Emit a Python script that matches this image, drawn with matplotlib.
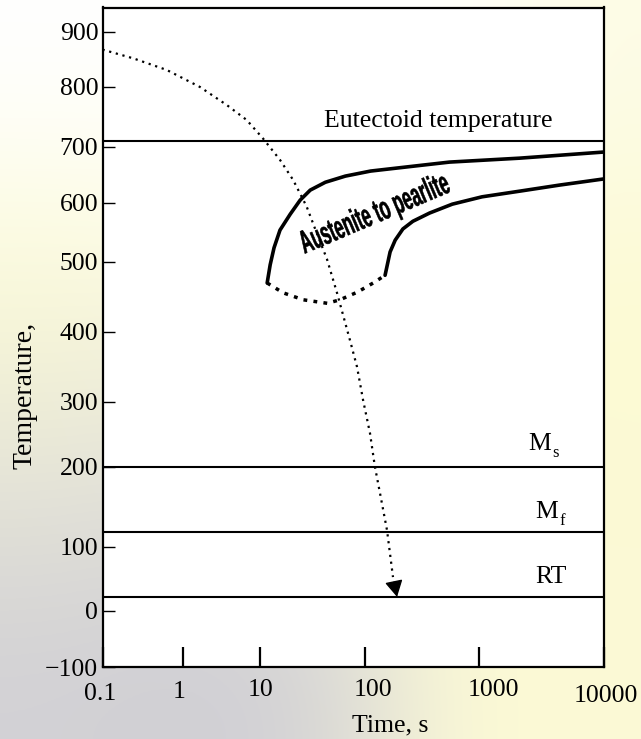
import numpy as np
import matplotlib
matplotlib.use("Agg")
import matplotlib.pyplot as plt
import matplotlib.transforms as mtransforms
from matplotlib.colors import to_rgb
from matplotlib.textpath import TextPath
from matplotlib.patches import PathPatch
from matplotlib.font_manager import FontProperties

plt.rcParams['font.family'] = ['Liberation Serif', 'DejaVu Serif']
plt.rcParams['mathtext.fontset'] = 'stix'

# --- data (time in s, temperature in deg C) ---
cool_t = [0.1, 0.243, 0.634, 1.68, 3.72, 6.73, 10.7, 15.5, 20.7, 27.8, 34.7,
          43.4, 54.1, 72, 84, 95.8, 110.6, 122, 135.5, 156, 176]
cool_c = [868, 852, 831, 800, 770, 745, 714, 677, 641, 594, 549,
          505, 456, 388, 350, 303, 252, 201, 167, 121, 53]
arrow_tip = (191, 22)
arrow_base = (179.6, 45)

start_t = [11.7, 12.5, 13.6, 15.5, 19.4, 24.1, 30.1, 41.9, 65, 112, 203, 302, 550, 2100, 10000]
start_c = [470, 496, 524, 554, 581, 605, 623, 637, 648, 657, 663, 667, 673, 680, 691]

finish_t = [150, 157, 166, 184, 215, 263, 369, 583, 1057, 2100, 4420, 10000]
finish_c = [481, 496, 517, 537, 556, 569, 583, 598, 611, 621, 632, 643]

nose_t = [11.7, 16.6, 25.8, 43.7, 57.7, 84.8, 118, 150]
nose_c = [470, 456, 446, 441, 446, 457, 470, 481]

eutectoid = 710.5
ms_temp = 200
mf_temp = 119
rt_temp = 22

x_ticks = [0.1, 1, 10, 100, 1000, 10000]
x_labels = ['0.1', '1', '10', '100', '1000', '10000']
y_ticks = [-100, 0, 100, 200, 300, 400, 500, 600, 700, 800, 900]
y_labels = ['\u2212100', '0', '100', '200', '300', '400', '500', '600', '700', '800', '900']

# the printed axes are hand drawn: decades / hundreds are not evenly spaced,
# so calibrate a piecewise scale on where the ticks sit (pixels)
x_cal = [-1, 0, 1, 2, 3, 4]
x_cal_px = [102.5, 182.5, 260, 365, 479, 604]
y_cal = [-100, 0, 100, 200, 300, 400, 500, 600, 700, 800, 900]
y_cal_px = [667, 611, 547, 467, 402, 332, 262, 203, 147, 87, 32]
# hand placed x tick labels (offset from their tick, in px)
x_label_dx = [-2.5, -3.5, 1, 8, 14, 2]
x_label_dy = [-4, -2, 0, 0, 0, -6]


def piecewise(xp, fp):
    xp = np.asarray(xp, float)
    fp = np.asarray(fp, float)

    def f(v):
        v = np.asarray(v, float)
        out = np.interp(v, xp, fp)
        lo = fp[0] + (v - xp[0]) * (fp[1] - fp[0]) / (xp[1] - xp[0])
        hi = fp[-1] + (v - xp[-1]) * (fp[-1] - fp[-2]) / (xp[-1] - xp[-2])
        return np.where(v < xp[0], lo, np.where(v > xp[-1], hi, out))
    return f


xf = piecewise(x_cal, x_cal_px)
xi = piecewise(x_cal_px, x_cal)
yf = piecewise(y_cal, -np.asarray(y_cal_px, float))
yi = piecewise(-np.asarray(y_cal_px, float), y_cal)


def x_fwd(t):
    return xf(np.log10(np.clip(np.asarray(t, float), 1e-9, None)))


def x_inv(p):
    return 10 ** xi(p)


W, H = 641, 739
fig = plt.figure(figsize=(W / 100, H / 100), dpi=100)

# slide background
bg = [['#ffffff', '#ffffff', '#ffffff', '#ffffff', '#fdfce6'],
      ['#fcfbd6', '#fdfbde', '#ffffff', '#fcfad6', '#fcfad4'],
      ['#e8e7d8', '#e4e3dc', '#f4f2dc', '#fcfad6', '#fcfad4'],
      ['#d2d1d5', '#cfced4', '#d4d3d6', '#fbf9d6', '#fcfad6']]
bg_img = np.array([[to_rgb(c) for c in row] for row in bg])
axb = fig.add_axes([0, 0, 1, 1], zorder=-1)
axb.imshow(bg_img, aspect='auto', interpolation='bicubic', extent=(0, 1, 0, 1))
axb.axis('off')

ax = fig.add_axes([102.5 / W, 1 - 667 / H, (604 - 102.5) / W, (667 - 7.5) / H])
ax.set_facecolor('white')
ax.set_xscale('function', functions=(x_fwd, x_inv))
ax.set_yscale('function', functions=(yf, yi))
ax.set_xlim(0.1, 10000)
ax.set_ylim(-100, 944.5)

for y in [eutectoid, ms_temp, mf_temp, rt_temp]:
    ax.axhline(y, color='black', lw=1.5)

# transformation start / finish curves
ax.plot(start_t, start_c, color='black', lw=2.6, solid_capstyle='round')
ax.plot(finish_t, finish_c, color='black', lw=2.6, solid_capstyle='round')
ax.plot(nose_t, nose_c, color='black', lw=2.5, linestyle=(0, (1.1, 1.8)))

# cooling path
ax.plot(cool_t, cool_c, color='black', lw=1.6, linestyle=(0, (1, 2.1)))
ax.annotate('', xy=arrow_tip, xytext=arrow_base,
            arrowprops=dict(arrowstyle='-|>,head_length=1.0,head_width=0.55',
                            color='black', lw=1, shrinkA=0, shrinkB=0,
                            mutation_scale=10))

ax.text(442, 733, 'Eutectoid temperature', ha='center', va='baseline', fontsize=18.5)
for name, sub, t, c in [('M', 's', 2480, 226), ('M', 'f', 2830, 136)]:
    ax.text(t, c, name, ha='left', va='baseline', fontsize=18.5)
    ax.annotate(sub, (t, c), xytext=(17.2, -5), textcoords='offset points',
                ha='left', va='baseline', fontsize=12)
ax.text(2830, 44, 'RT', ha='left', va='baseline', fontsize=18.5)

ax.set_xticks(x_ticks)
ax.set_xticklabels(x_labels)
ax.set_yticks(y_ticks)
ax.set_yticklabels(y_labels)
ax.minorticks_off()
ax.tick_params(axis='x', direction='in', length=14.4, width=1.6, pad=9,
               labelsize=18.5, top=False)
ax.tick_params(axis='y', direction='in', length=8.6, width=1.0, pad=3,
               labelsize=18.5, right=False)
for lbl, dx, dy in zip(ax.get_xticklabels(), x_label_dx, x_label_dy):
    lbl.set_transform(lbl.get_transform() +
                      mtransforms.Affine2D().translate(dx, dy))
for s in ax.spines.values():
    s.set_linewidth(1.6)

# condensed bold label drawn as a squeezed text path
tp = TextPath((0, 0), 'Austenite to pearlite', size=26,
              prop=FontProperties(family='Liberation Sans', weight='bold'))
bb = tp.get_extents()
px, py = ax.transData.transform((122, 580))
tr = (mtransforms.Affine2D()
      .translate(-(bb.x0 + bb.x1) / 2, -(bb.y0 + bb.y1) / 2)
      .scale(0.64, 1.25).rotate_deg(23).translate(px, py))
fig.add_artist(PathPatch(tp, transform=tr, facecolor='black', edgecolor='black', lw=0.4))

fig.text(390 / W, 1 - 725 / H, 'Time, s', ha='center', va='center', fontsize=18.5)
fig.text(25 / W, 1 - 395 / H, 'Temperature,', ha='center', va='center',
         rotation=90, fontsize=20)

fig.savefig('out.png', dpi=100)
